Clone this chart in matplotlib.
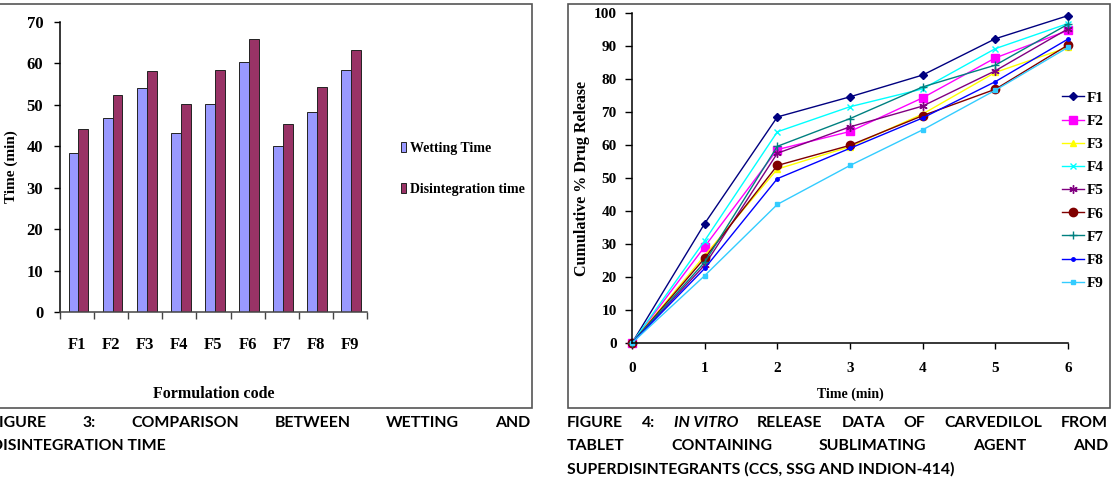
import matplotlib
matplotlib.use("Agg")
import matplotlib.pyplot as plt
from matplotlib.patches import Rectangle
import numpy as np

W, H = 1112, 478

# ---- data: figure 3 (bar chart) ----
codes = ["F1", "F2", "F3", "F4", "F5", "F6", "F7", "F8", "F9"]
wetting_time = [38.3, 46.8, 54.0, 43.1, 50.1, 60.4, 40.1, 48.2, 58.3]
disintegration_time = [44.1, 52.3, 58.1, 50.1, 58.3, 66.0, 45.3, 54.2, 63.2]

# ---- data: figure 4 (release profiles) ----
time_min = [0, 1, 2, 3, 4, 5, 6]
release = {
    "F1": [0, 36.2, 68.5, 74.6, 81.2, 92.2, 99.2],
    "F2": [0, 29.2, 58.6, 64.1, 74.3, 86.4, 94.7],
    "F3": [0, 26.5, 52.7, 59.5, 69.4, 82.0, 89.6],
    "F4": [0, 31.0, 64.0, 71.6, 77.0, 89.2, 96.8],
    "F5": [0, 23.6, 57.5, 65.5, 71.8, 82.5, 95.2],
    "F6": [0, 25.7, 53.8, 59.9, 68.9, 76.9, 90.3],
    "F7": [0, 24.5, 59.6, 68.0, 77.6, 84.2, 96.6],
    "F8": [0, 22.6, 49.8, 59.0, 68.2, 79.2, 92.1],
    "F9": [0, 20.4, 42.0, 53.8, 64.6, 76.6, 89.6],
}
line_colors = ["#000080", "#FF00FF", "#FFFF00", "#00FFFF", "#800080",
               "#800000", "#008080", "#0000FF", "#33CCFF"]
line_markers = ["D", "s", "^", "x", (6, 2, 0), "o", "+", "o", "s"]
marker_sizes = [4, 6, 5, 5, 6, 6, 6, 2.5, 3]

caption3 = [["FIGURE", "3:", "COMPARISON", "BETWEEN", "WETTING", "AND"],
            ["DISINTEGRATION TIME"]]
caption4 = [["FIGURE", "4:", "IN VITRO", "RELEASE", "DATA", "OF", "CARVEDILOL", "FROM"],
            ["TABLET", "CONTAINING", "SUBLIMATING", "AGENT", "AND"],
            ["SUPERDISINTEGRANTS (CCS, SSG AND INDION-414)"]]

serif = ["Liberation Serif", "DejaVu Serif"]
capfont = ["Lato", "Liberation Sans", "DejaVu Sans"]


def fx(px):
    return px / W


def fy(py):
    return 1 - py / H


fig = plt.figure(figsize=(W / 100, H / 100), dpi=100)

# panel frames
for x0, x1 in [(-3, 532), (568, 1110)]:
    fig.patches.append(Rectangle((fx(x0), fy(408)), fx(x1) - fx(x0), fy(4) - fy(408),
                                 transform=fig.transFigure, fill=False,
                                 edgecolor="#555555", linewidth=1.2))

# ---- left: bar chart ----
ax1 = fig.add_axes([fx(60), fy(312), fx(367) - fx(60), fy(22) - fy(312)])
x = np.arange(len(codes))
bw = 0.29
ax1.bar(x - bw / 2 + 0.04, wetting_time, bw, color="#9999FF", edgecolor="#222222",
        linewidth=0.7, label="Wetting Time")
ax1.bar(x + bw / 2 + 0.04, disintegration_time, bw, color="#993366", edgecolor="#222222",
        linewidth=0.7, label="Disintegration time")
ax1.set_xlim(-0.5, len(codes) - 0.5)
ax1.set_ylim(0, 70)
ax1.set_yticks(range(0, 71, 10))
ax1.set_xticks(x)
ax1.set_xticklabels(codes)
ax1.set_xticks(np.arange(-0.5, len(codes), 1), minor=True)
ax1.tick_params(axis="x", which="major", length=0, pad=18)
ax1.tick_params(axis="x", which="minor", length=5, width=1, color="#444444")
ax1.tick_params(axis="y", length=4, width=1, pad=8)
for lab in ax1.get_xticklabels() + ax1.get_yticklabels():
    lab.set_fontfamily(serif)
    lab.set_fontweight("bold")
    lab.set_fontsize(12)
for s in ["top", "right"]:
    ax1.spines[s].set_visible(False)
ax1.spines["left"].set_linewidth(1.1)
ax1.spines["bottom"].set_color("#444444")
ax1.spines["bottom"].set_linewidth(1.1)
ax1.set_ylabel("Time (min)", fontfamily=serif, fontweight="bold", fontsize=11)
ax1.yaxis.set_label_coords(-0.138, 0.5)
ax1.set_xlabel("Formulation code", fontfamily=serif, fontweight="bold", fontsize=11.5)
ax1.xaxis.set_label_coords(0.5, -0.255)
fig.legend(*ax1.get_legend_handles_labels(), loc="upper left",
           bbox_to_anchor=(fx(401), fy(142)), frameon=False,
           prop={"family": serif, "weight": "bold", "size": 10},
           handlelength=0.36, handleheight=0.72, handletextpad=0.3,
           labelspacing=2.0, borderpad=0, borderaxespad=0)

# ---- right: release curves ----
ax2 = fig.add_axes([fx(632), fy(343), fx(1068) - fx(632), fy(13) - fy(343)])
handles = []
for i, (name, vals) in enumerate(release.items()):
    h, = ax2.plot(time_min, vals, color=line_colors[i], marker=line_markers[i],
                  markersize=marker_sizes[i], linewidth=1.0, label=name,
                  markeredgewidth=1.0, clip_on=False)
    handles.append(h)
ax2.set_xlim(0, 6)
ax2.set_ylim(0, 100)
ax2.set_xticks(time_min)
ax2.set_yticks(range(0, 101, 10))
ax2.tick_params(axis="x", length=4, width=1, pad=10)
ax2.tick_params(axis="y", length=5, width=1, pad=6)
for lab in ax2.get_xticklabels() + ax2.get_yticklabels():
    lab.set_fontfamily(serif)
    lab.set_fontweight("bold")
    lab.set_fontsize(11)
for s in ["top", "right"]:
    ax2.spines[s].set_visible(False)
ax2.spines["left"].set_linewidth(1.1)
ax2.spines["bottom"].set_linewidth(1.1)
ax2.set_ylabel("Cumulative % Drug Release", fontfamily=serif, fontweight="bold", fontsize=11.5)
ax2.yaxis.set_label_coords(-0.096, 0.5)
ax2.set_xlabel("Time (min)", fontfamily=serif, fontweight="bold", fontsize=10)
ax2.xaxis.set_label_coords(0.5, -0.135)
fig.legend(handles=handles, loc="upper left", bbox_to_anchor=(fx(1062), fy(91)),
           frameon=False, prop={"family": serif, "weight": "bold", "size": 11},
           handlelength=1.45, handletextpad=0.2, labelspacing=0.62,
           borderpad=0, borderaxespad=0)

# ---- captions ----
renderer = fig.canvas.get_renderer()

# size the caption font so the last line has the width it has in the print
probe = fig.text(0, 0, caption4[2][0], fontfamily=capfont, fontweight="bold", fontsize=10)
cap_size = 10 * 387 / probe.get_window_extent(renderer).width
probe.remove()


def caption_line(words, x0, x1, y, justify=True, italic=()):
    texts = []
    for w in words:
        t = fig.text(fx(x0), fy(y), w, fontfamily=capfont, fontweight="bold",
                     fontsize=cap_size, style="italic" if w in italic else "normal",
                     va="center", ha="left")
        texts.append(t)
    if not justify or len(texts) == 1:
        return
    widths = [t.get_window_extent(renderer).width for t in texts]
    gap = (x1 - x0 - sum(widths)) / (len(texts) - 1)
    pos = x0
    for t, wd in zip(texts, widths):
        t.set_x(fx(pos))
        pos += wd + gap


caption_line(caption3[0], -9, 530, 423)
caption_line(caption3[1], -9, 530, 446, justify=False)
caption_line(caption4[0], 567, 1108, 423, italic=("IN VITRO",))
caption_line(caption4[1], 567, 1108, 446)
caption_line(caption4[2], 567, 1108, 469, justify=False)

fig.savefig("out.png", dpi=100)
